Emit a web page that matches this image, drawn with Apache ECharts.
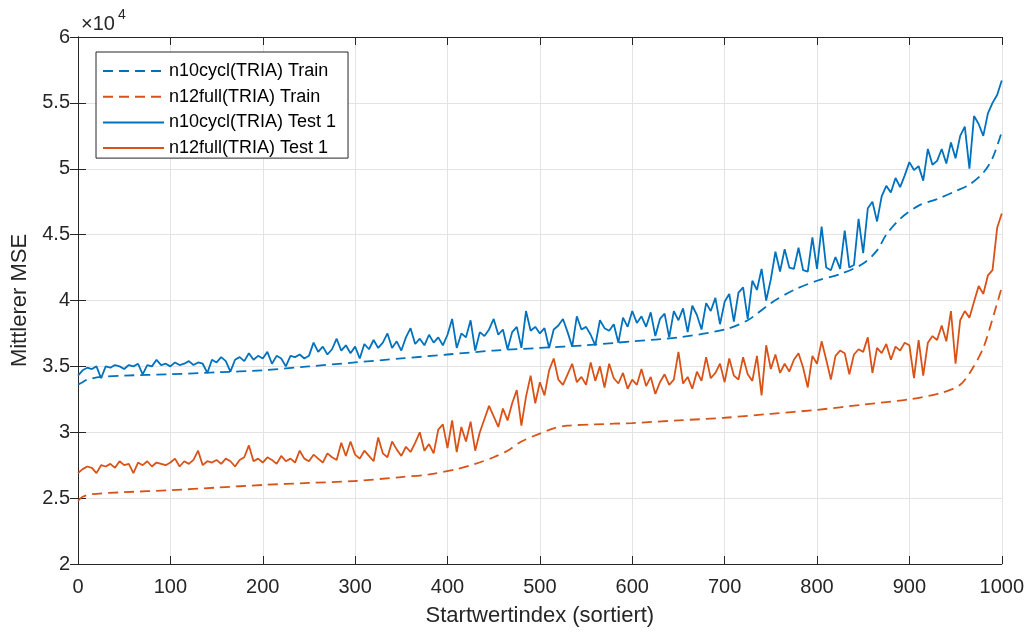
<!DOCTYPE html>
<html>
<head>
<meta charset="utf-8">
<script src="https://cdn.jsdelivr.net/npm/echarts@6/dist/echarts.min.js"></script>
<style>
html, body { margin: 0; padding: 0; background: #fff; }
#chart { width: 1027px; height: 632px; }
</style>
</head>
<body>
<div id="chart"></div>
<script>
// values in units of 1e4 (axis shows x10^4)
var trainBlueIdx = [0, 5, 10, 25, 50, 100, 150, 200, 250, 300, 350, 400, 450, 500, 550, 600, 650, 700, 725, 750, 775, 800, 825, 850, 865, 875, 890, 910, 930, 950, 965, 980, 990, 1000]
var trainBlue = [3.36, 3.38, 3.40, 3.42, 3.43, 3.44, 3.455, 3.47, 3.50, 3.53, 3.56, 3.59, 3.62, 3.64, 3.66, 3.69, 3.72, 3.78, 3.85, 3.98, 4.08, 4.15, 4.20, 4.28, 4.38, 4.50, 4.62, 4.72, 4.77, 4.83, 4.88, 4.97, 5.08, 5.28]

var trainOrangeIdx = [0, 5, 15, 50, 100, 150, 200, 250, 300, 350, 380, 410, 430, 450, 465, 480, 500, 515, 530, 560, 600, 650, 700, 750, 800, 850, 900, 935, 955, 968, 980, 990, 1000]
var trainOrange = [2.48, 2.51, 2.53, 2.545, 2.56, 2.58, 2.60, 2.615, 2.63, 2.66, 2.68, 2.72, 2.76, 2.81, 2.86, 2.93, 2.99, 3.03, 3.05, 3.06, 3.07, 3.09, 3.11, 3.14, 3.17, 3.21, 3.25, 3.30, 3.36, 3.48, 3.64, 3.86, 4.10]

// test curves, read every 5th start index (0, 5, ..., 1000)
var testStep = 5
var testBlue = [
  3.43, 3.47, 3.49, 3.48, 3.50, 3.41, 3.50, 3.49, 3.51, 3.50,
  3.48, 3.51, 3.50, 3.52, 3.44, 3.51, 3.50, 3.55, 3.51, 3.52,
  3.50, 3.53, 3.51, 3.52, 3.54, 3.51, 3.53, 3.52, 3.45, 3.55,
  3.53, 3.57, 3.54, 3.46, 3.55, 3.57, 3.54, 3.60, 3.55, 3.58,
  3.56, 3.61, 3.52, 3.58, 3.56, 3.50, 3.58, 3.57, 3.59, 3.56,
  3.58, 3.68, 3.61, 3.65, 3.59, 3.63, 3.71, 3.62, 3.66, 3.60,
  3.65, 3.56, 3.67, 3.63, 3.70, 3.64, 3.68, 3.75, 3.64, 3.69,
  3.62, 3.72, 3.79, 3.67, 3.71, 3.66, 3.74, 3.68, 3.72, 3.66,
  3.74, 3.86, 3.64, 3.75, 3.72, 3.85, 3.62, 3.76, 3.73, 3.78,
  3.86, 3.74, 3.78, 3.63, 3.76, 3.80, 3.64, 3.92, 3.77, 3.80,
  3.75, 3.79, 3.64, 3.78, 3.81, 3.86, 3.76, 3.65, 3.88, 3.78,
  3.80, 3.74, 3.66, 3.85, 3.79, 3.77, 3.82, 3.68, 3.87, 3.80,
  3.92, 3.83, 3.88, 3.80, 3.91, 3.73, 3.86, 3.90, 3.72, 3.92,
  3.85, 3.94, 3.76, 3.96, 3.89, 3.78, 3.98, 3.92, 4.02, 3.82,
  3.99, 4.05, 3.84, 4.06, 4.10, 3.86, 4.15, 4.08, 4.24, 4.00,
  4.16, 4.37, 4.22, 4.39, 4.25, 4.24, 4.40, 4.23, 4.22, 4.48,
  4.24, 4.56, 4.25, 4.23, 4.33, 4.24, 4.53, 4.25, 4.27, 4.62,
  4.36, 4.70, 4.75, 4.60, 4.79, 4.87, 4.82, 4.93, 4.86, 4.95,
  5.05, 4.99, 5.02, 4.91, 5.15, 5.03, 5.06, 5.15, 5.04, 5.20,
  5.08, 5.25, 5.32, 5.00, 5.40, 5.34, 5.25, 5.42, 5.50, 5.56,
  5.67
]
var testOrange = [
  2.69, 2.72, 2.74, 2.73, 2.69, 2.75, 2.74, 2.76, 2.73, 2.78,
  2.75, 2.76, 2.69, 2.77, 2.75, 2.78, 2.74, 2.77, 2.76, 2.75,
  2.77, 2.80, 2.74, 2.78, 2.76, 2.79, 2.86, 2.75, 2.78, 2.77,
  2.79, 2.76, 2.80, 2.78, 2.74, 2.79, 2.81, 2.90, 2.78, 2.80,
  2.77, 2.81, 2.79, 2.76, 2.82, 2.78, 2.80, 2.77, 2.86, 2.80,
  2.78, 2.83, 2.80, 2.77, 2.84, 2.81, 2.79, 2.92, 2.82, 2.93,
  2.83, 2.80, 2.86, 2.82, 2.78, 2.96, 2.84, 2.81, 2.93, 2.87,
  2.82, 2.89, 2.85, 2.92, 3.00, 2.86, 2.91, 2.84, 3.02, 3.06,
  2.88, 3.09, 2.85, 3.04, 2.93, 3.08, 2.86, 3.00, 3.10, 3.20,
  3.12, 3.04, 3.18, 3.09, 3.22, 3.32, 3.05, 3.27, 3.43, 3.22,
  3.38, 3.28, 3.47, 3.56, 3.40, 3.36, 3.44, 3.52, 3.38, 3.42,
  3.36, 3.53, 3.39, 3.50, 3.34, 3.52, 3.41, 3.37, 3.45, 3.33,
  3.40, 3.36, 3.48, 3.35, 3.42, 3.29, 3.38, 3.44, 3.36, 3.40,
  3.61, 3.37, 3.42, 3.33, 3.46, 3.39, 3.57, 3.41, 3.45, 3.52,
  3.38, 3.56, 3.43, 3.40, 3.57, 3.44, 3.39, 3.58, 3.28, 3.66,
  3.48, 3.59, 3.45, 3.52, 3.46, 3.55, 3.60, 3.49, 3.34, 3.58,
  3.52, 3.69, 3.55, 3.40, 3.58, 3.62, 3.60, 3.44, 3.59, 3.63,
  3.61, 3.72, 3.45, 3.64, 3.60, 3.67, 3.55, 3.65, 3.62, 3.68,
  3.66, 3.41, 3.70, 3.43, 3.68, 3.73, 3.70, 3.81, 3.69, 3.92,
  3.52, 3.85, 3.92, 3.87, 3.99, 4.11, 4.05, 4.19, 4.23, 4.55,
  4.66
]

var names = ['n10cycl(TRIA) Train', 'n12full(TRIA) Train', 'n10cycl(TRIA) Test 1', 'n12full(TRIA) Test 1']
var blue = '#0072BD'
var orange = '#D95319'
var font = 'Liberation Sans, Arial, Helvetica, sans-serif'

function pairs(xs, ys) {
  return ys.map(function (v, i) { return [xs[i], v] })
}
function stepped(ys) {
  return ys.map(function (v, i) { return [i * testStep, v] })
}

var chart = echarts.init(document.getElementById('chart'))

var axisLine = { show: true, lineStyle: { color: '#262626', width: 1 } }
var tick = { show: true, inside: true, length: 8, lineStyle: { color: '#262626' } }
var label = { color: '#262626', fontSize: 20, fontFamily: font }

var option = {
  animation: false,
  backgroundColor: '#fff',
  grid: { left: 78, right: 24, top: 37, bottom: 65 },
  legend: {
    orient: 'vertical',
    left: 96,
    top: 52,
    data: names,
    itemWidth: 61,
    itemHeight: 20,
    itemGap: 7.7,
    padding: [10, 12, 1, 6],
    backgroundColor: '#fff',
    borderColor: '#262626',
    borderWidth: 1,
    borderRadius: 0,
    itemStyle: { opacity: 0 },
    textStyle: { color: '#000', fontSize: 18, fontFamily: font }
  },
  graphic: [{
    type: 'text', left: 81, top: 14,
    style: { text: '×10', fill: '#262626', font: '20px ' + font }
  }, {
    type: 'text', left: 118, top: 8,
    style: { text: '4', fill: '#262626', font: '14px ' + font }
  }],
  xAxis: [{
    type: 'value', min: 0, max: 1000, interval: 100,
    name: 'Startwertindex (sortiert)', nameLocation: 'middle', nameGap: 41,
    nameTextStyle: { color: '#262626', fontSize: 22, fontFamily: font },
    axisLine: axisLine, axisTick: tick,
    axisLabel: Object.assign({ margin: 13, formatter: function (v) { return String(v) } }, label),
    splitLine: { show: true, lineStyle: { color: '#e3e3e3' } }
  }, {
    type: 'value', min: 0, max: 1000, interval: 100, position: 'top',
    axisLine: axisLine, axisTick: tick, axisLabel: { show: false }, splitLine: { show: false }
  }],
  yAxis: [{
    type: 'value', min: 2, max: 6, interval: 0.5,
    name: 'Mittlerer MSE', nameLocation: 'middle', nameGap: 47,
    nameTextStyle: { color: '#262626', fontSize: 22, fontFamily: font },
    axisLine: axisLine, axisTick: tick,
    axisLabel: Object.assign({ margin: 8 }, label),
    splitLine: { show: true, lineStyle: { color: '#e3e3e3' } }
  }, {
    type: 'value', min: 2, max: 6, interval: 0.5, position: 'right',
    axisLine: axisLine, axisTick: tick, axisLabel: { show: false }, splitLine: { show: false }
  }],
  series: [
    { name: names[0], type: 'line', data: pairs(trainBlueIdx, trainBlue), symbol: 'none', smooth: 0.3,
      lineStyle: { color: blue, width: 1.8, type: [10, 6] }, itemStyle: { color: blue } },
    { name: names[1], type: 'line', data: pairs(trainOrangeIdx, trainOrange), symbol: 'none', smooth: 0.3,
      lineStyle: { color: orange, width: 1.8, type: [10, 6] }, itemStyle: { color: orange } },
    { name: names[2], type: 'line', data: stepped(testBlue), symbol: 'none',
      lineStyle: { color: blue, width: 1.8 }, itemStyle: { color: blue } },
    { name: names[3], type: 'line', data: stepped(testOrange), symbol: 'none',
      lineStyle: { color: orange, width: 1.8 }, itemStyle: { color: orange } }
  ]
}

chart.setOption(option)
</script>
</body>
</html>
